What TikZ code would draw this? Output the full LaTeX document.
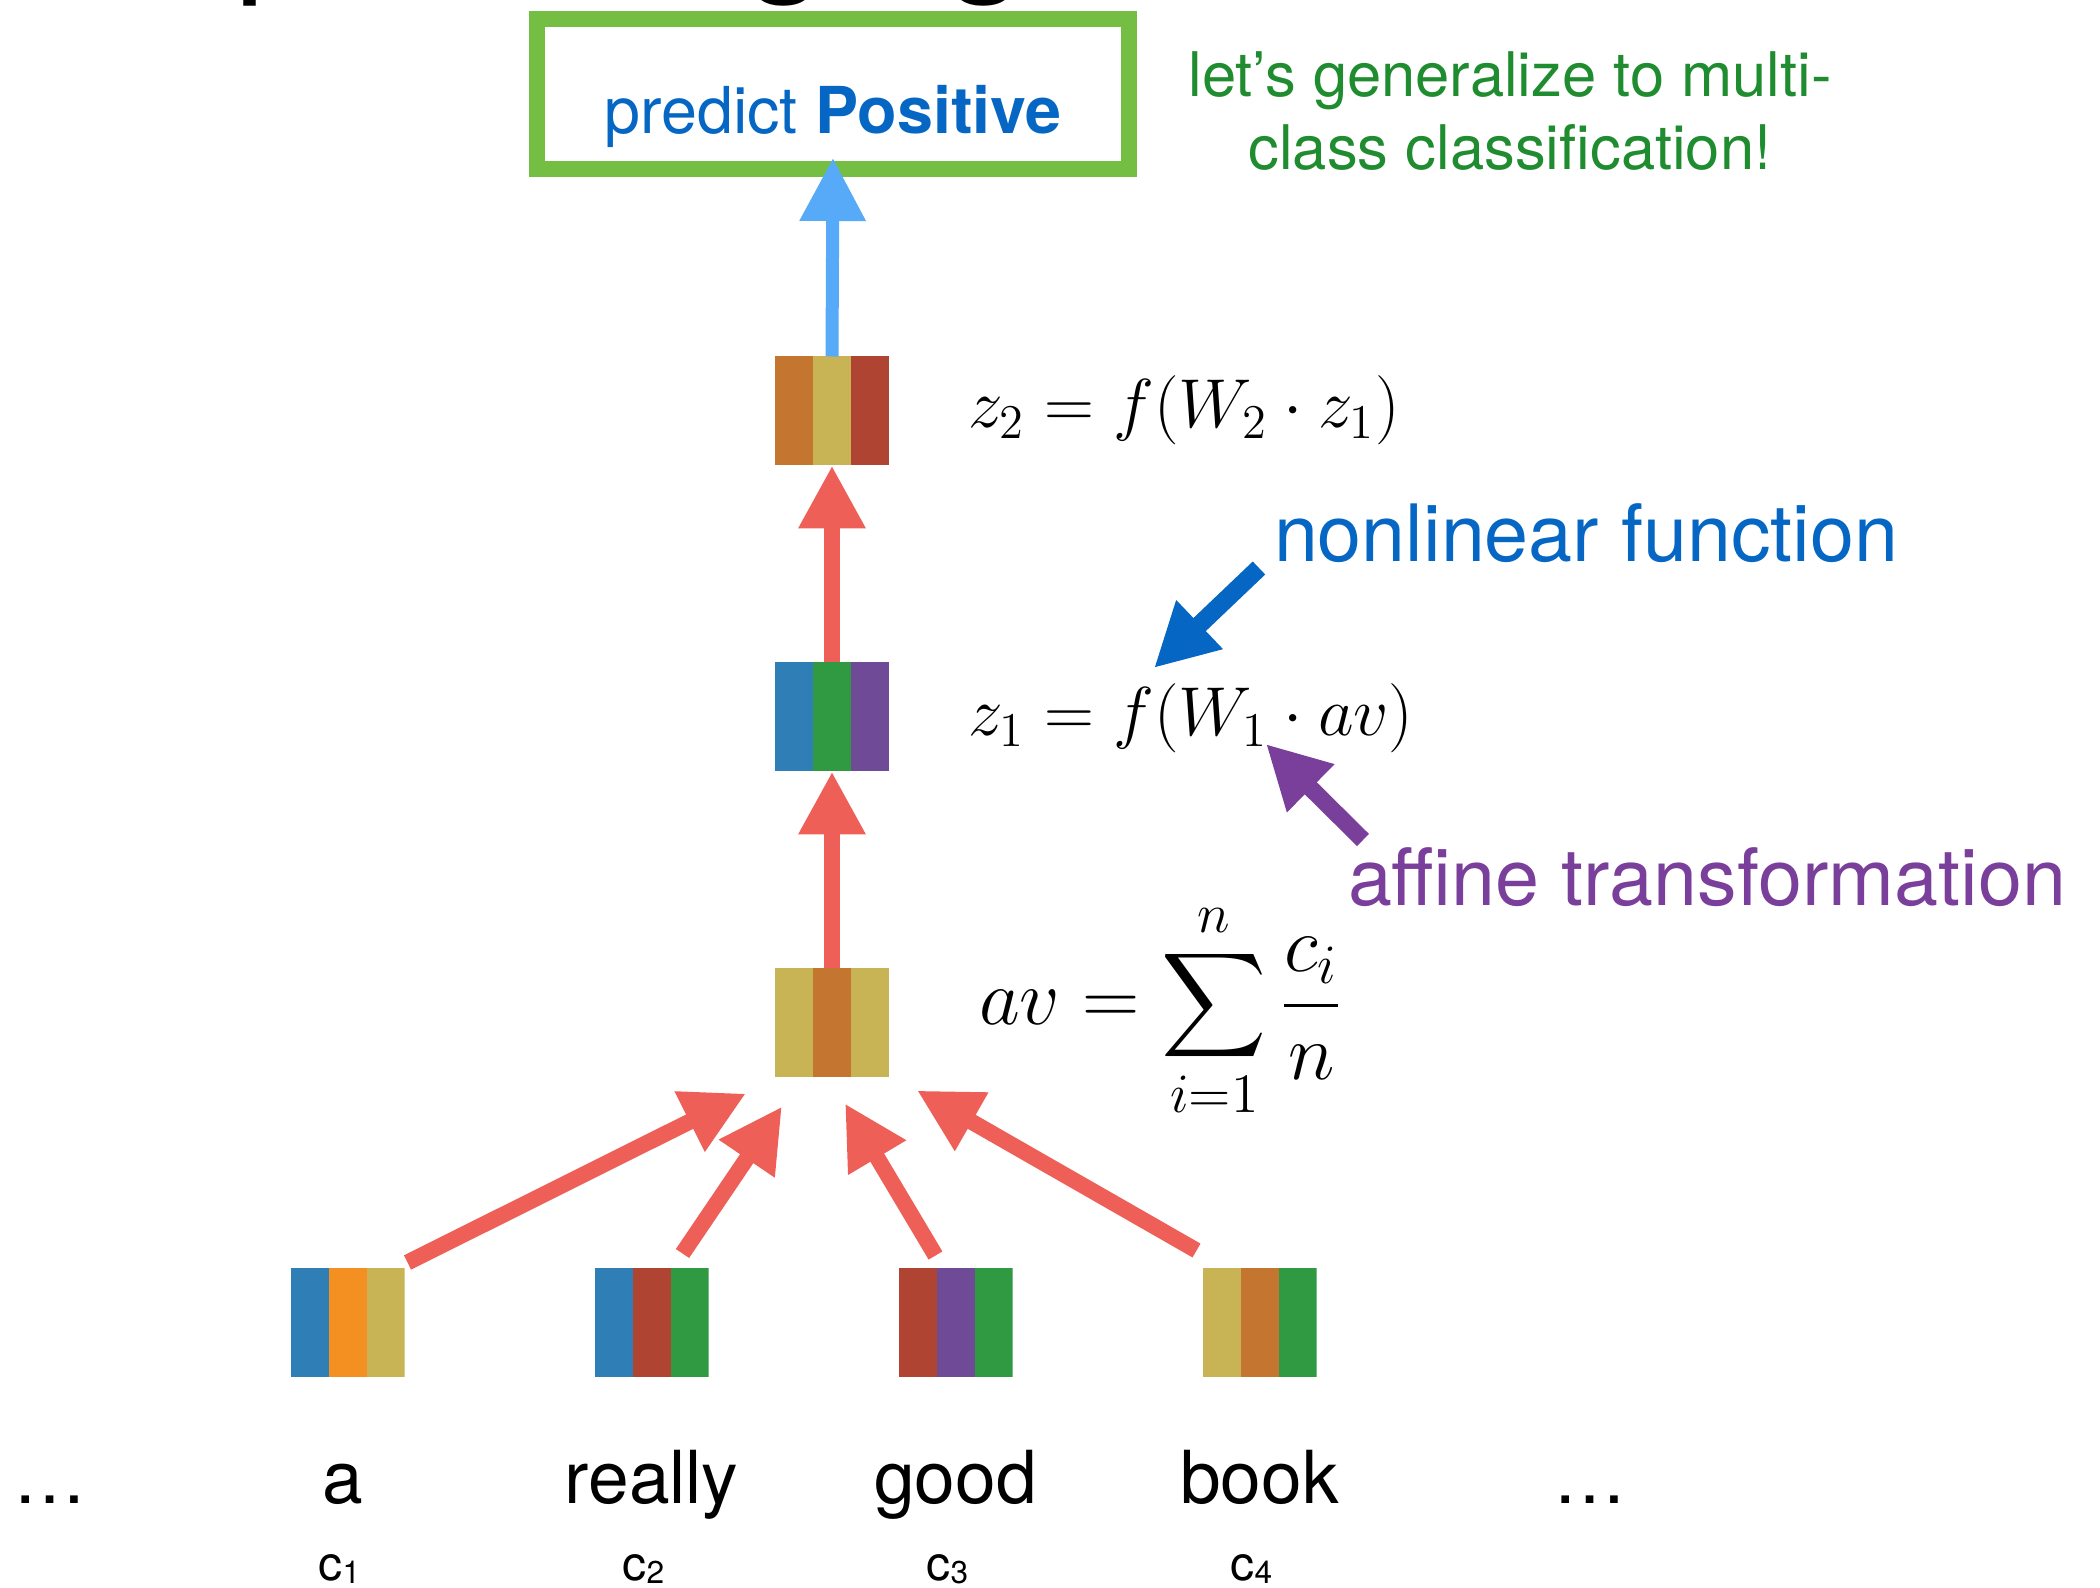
\RequirePackage{fix-cm}
\documentclass[tikz,border=0pt]{standalone}
\usepackage{exscale}
\usepackage[no-math]{fontspec}
\setmainfont{TeX Gyre Heros}
\usepackage{xcolor}
\usepackage{tikz}
\usetikzlibrary{arrows.meta, positioning, calc}
\definecolor{vblue}{HTML}{2F7EB6}
\definecolor{vorange}{HTML}{F39021}
\definecolor{vkhaki}{HTML}{C8B455}
\definecolor{vred}{HTML}{B04433}
\definecolor{vgreen}{HTML}{2F9A41}
\definecolor{vpurple}{HTML}{6F4B97}
\definecolor{vrust}{HTML}{C47631}
\definecolor{arrowred}{HTML}{EE5F58}
\definecolor{arrowsky}{HTML}{56AAF7}
\definecolor{boxgreen}{HTML}{74BF43}
\definecolor{notegreen}{HTML}{1F8C30}
\definecolor{noteblue}{HTML}{0567C3}
\definecolor{notepurple}{HTML}{7A3F9B}
\newcommand{\wordidx}[1]{c\raisebox{-0.03cm}{\fontsize{9pt}{10pt}\selectfont #1}}

\begin{document}
\begin{tikzpicture}[
  every node/.style={inner sep=0pt, outer sep=0pt},
  vec/.style n args={3}{rectangle, fill=white, minimum width=1.14cm, minimum height=1.09cm,
    path picture={
      \fill[#1] (path picture bounding box.south west) rectangle ++(0.38,1.09);
      \fill[#2] ([xshift=0.38cm]path picture bounding box.south west) rectangle ++(0.38,1.09);
      \fill[#3] ([xshift=0.76cm]path picture bounding box.south west) rectangle ++(0.38,1.09);
    }},
  word/.style={font=\fontsize{20.8pt}{25pt}\selectfont},
  sub/.style={font=\fontsize{13.7pt}{16pt}\selectfont},
  eqn/.style={font=\fontsize{19.7pt}{24pt}\selectfont},
  eqnbig/.style={font=\fontsize{22.6pt}{27pt}\selectfont},
  note/.style={font=\fontsize{22.5pt}{27pt}\selectfont},
  fat/.style={line width=0.16cm, -{Triangle[length=0.63cm, width=0.63cm]}},
]
  \useasboundingbox (0,0) rectangle (21,-15.88);
  \clip (0,0) rectangle (21,-15.88);

  % slide title, cut by the top edge
  \node[font=\fontsize{42.7pt}{50pt}\selectfont, anchor=base west] (title) at (-0.40,0.26) {Deep Averaging Network};

  \node[draw=boxgreen, line width=0.16cm, minimum width=5.92cm, minimum height=1.50cm,
        text height=0.93cm, text depth=0.13cm, text=noteblue,
        font=\fontsize{18.4pt}{22pt}\selectfont] (pbox) at (8.33,-0.94) {predict \textbf{Positive}};
  \node[font=\fontsize{17.5pt}{21pt}\selectfont, text=notegreen, align=center, anchor=base]
    (gen) at (15.10,-1.70) {let's generalize to multi-\\class classification!};

  % word vectors
  \node[vec={vblue}{vorange}{vkhaki}] (wa) at (3.475,-13.23) {};
  \node[vec={vblue}{vred}{vgreen}, right=1.9cm of wa] (wr) {};
  \node[vec={vred}{vpurple}{vgreen}, right=1.9cm of wr] (wg) {};
  \node[vec={vkhaki}{vrust}{vgreen}, right=1.9cm of wg] (wb) {};

  \node[word, anchor=base] (la) at ([xshift=-0.05cm, yshift=-1.26cm]wa.south) {a};
  \node[word, anchor=base] (lr) at ([yshift=-1.26cm]wr.south) {really};
  \node[word, anchor=base] (lg) at ([yshift=-1.26cm]wg.south) {good};
  \node[word, anchor=base] (lb) at ([yshift=-1.26cm]wb.south) {book};
  \node[word, anchor=base] (dl) at ([xshift=-2.925cm]la.base) {\dots};
  \node[word, anchor=base] (dr) at ([xshift=3.31cm]lb.base) {\dots};

  \node[sub, anchor=base] (ca) at ([xshift=-0.08cm, yshift=-2.03cm]wa.south) {\wordidx{1}};
  \node[sub, anchor=base] (cr) at ([xshift=-0.08cm, yshift=-2.03cm]wr.south) {\wordidx{2}};
  \node[sub, anchor=base] (cg) at ([xshift=-0.08cm, yshift=-2.03cm]wg.south) {\wordidx{3}};
  \node[sub, anchor=base] (cb) at ([xshift=-0.08cm, yshift=-2.03cm]wb.south) {\wordidx{4}};

  % averaged and hidden layers
  \node[vec={vkhaki}{vrust}{vkhaki}] (av) at (8.32,-10.23) {};
  \node[vec={vblue}{vgreen}{vpurple}, above=1.97cm of av] (z1) {};
  \node[vec={vrust}{vkhaki}{vred}, above=1.97cm of z1] (z2) {};

  \node[eqnbig, anchor=base west] (eav) at ([xshift=0.90cm, yshift=-0.02cm]av.east)
    {$\displaystyle av = \sum_{i=1}^{n} \frac{c_i}{n}$};
  \node[eqn, anchor=base west] (ez1) at ([xshift=0.79cm, yshift=-0.19cm]z1.east) {$z_1 = f(W_1 \cdot av)$};
  \node[eqn, anchor=base west] (ez2) at ([xshift=0.79cm, yshift=-0.17cm]z2.east) {$z_2 = f(W_2 \cdot z_1)$};

  \node[note, text=noteblue, anchor=base west] (nl) at (12.74,-5.62) {nonlinear function};
  \node[note, text=notepurple, anchor=base west] (af) at (13.48,-9.06) {affine transformation};

  \draw[fat, arrowred] ([shift={(0.03,0.06)}]wa.north east) -- ([shift={(-0.86,-0.16)}]av.south);
  \draw[fat, arrowred] ([shift={(0.31,0.15)}]wr.north) -- ([shift={(-0.50,-0.29)}]av.south);
  \draw[fat, arrowred] ([shift={(-0.20,0.13)}]wg.north) -- ([shift={(0.13,-0.26)}]av.south);
  \draw[fat, arrowred] ([shift={(-0.06,0.18)}]wb.north west) -- ([shift={(0.85,-0.13)}]av.south);
  \draw[fat, arrowred] (av.north) -- (z1.south);
  \draw[fat, arrowred] (z1.north) -- (z2.south);
  \draw[fat, arrowsky, line width=0.13cm] (z2.north) -- ([yshift=0.11cm]pbox.south);

  \draw[fat, noteblue, line width=0.18cm] ([shift={(-0.15,-0.06)}]nl.base west) -- ([shift={(1.86,0.68)}]ez1.base west);
  \draw[fat, notepurple, line width=0.17cm] ([shift={(0.15,0.66)}]af.base west) -- ([shift={(2.98,-0.08)}]ez1.base west);
\end{tikzpicture}
\end{document}
